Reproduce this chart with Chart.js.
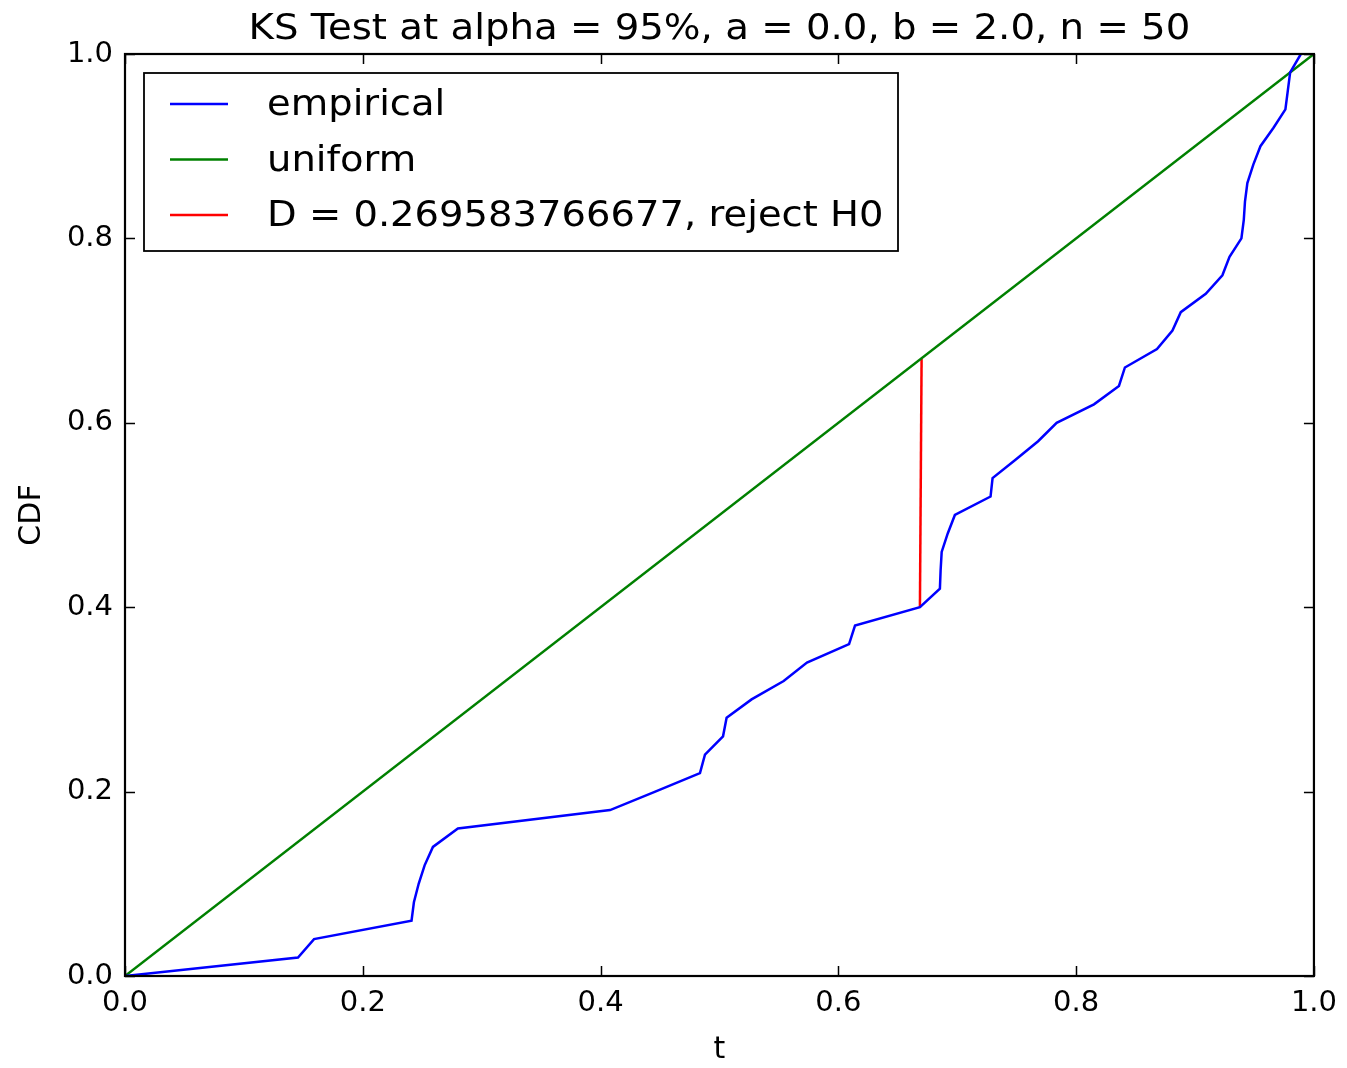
<!DOCTYPE html>
<html>
<head>
<meta charset="utf-8">
<script src="https://cdn.jsdelivr.net/npm/chart.js@4"></script>
<style>
  html, body { margin: 0; padding: 0; background: #fff; }
  canvas { display: block; }
</style>
</head>
<body>
<canvas id="ksChart" width="1347" height="1068"></canvas>
<script>
// data
const titleText = "KS Test at alpha = 95%, a = 0.0, b = 2.0, n = 50";
const empiricalT = [0, 0.1455, 0.159, 0.241, 0.243, 0.247, 0.252, 0.259, 0.280, 0.408, 0.446,
  0.4836, 0.4878, 0.503, 0.506, 0.527, 0.554, 0.5736, 0.609, 0.614, 0.6686, 0.6854, 0.686,
  0.6869, 0.692, 0.698, 0.728, 0.7297, 0.749, 0.768, 0.7836, 0.815, 0.836, 0.841, 0.868,
  0.881, 0.888, 0.909, 0.923, 0.929, 0.939, 0.941, 0.942, 0.944, 0.949, 0.955, 0.966,
  0.976, 0.978, 0.980, 0.989];
const empiricalCdf = [0, 0.02, 0.04, 0.06, 0.08, 0.10, 0.12, 0.14, 0.16, 0.18, 0.20,
  0.22, 0.24, 0.26, 0.28, 0.30, 0.32, 0.34, 0.36, 0.38, 0.40, 0.42, 0.44,
  0.46, 0.48, 0.50, 0.52, 0.54, 0.56, 0.58, 0.60, 0.62, 0.64, 0.66, 0.68,
  0.70, 0.72, 0.74, 0.76, 0.78, 0.80, 0.82, 0.84, 0.86, 0.88, 0.90, 0.92,
  0.94, 0.96, 0.98, 1.0];
const uniformT = [0, 1];
const uniformCdf = [0, 1];
const dT = [0.6700, 0.6686];
const dCdf = [0.6696, 0.40];
const tickValues = [0, 0.2, 0.4, 0.6, 0.8, 1.0];

const FONT = "'DejaVu Sans', sans-serif";

function toPoints(xs, ys) {
  return xs.map((x, i) => ({ x: x, y: ys[i] }));
}

// text in the original is a little wider than DejaVu at the same height
function wideText(ctx, text, x, y, sx) {
  ctx.save();
  ctx.translate(x, y);
  ctx.scale(sx, 1);
  ctx.fillText(text, 0, 0);
  ctx.restore();
}

// box, inward ticks on all four sides, title and legend like the matplotlib figure
const frameAndLegend = {
  id: "frameAndLegend",
  afterDatasetsDraw(chart) {
    const ctx = chart.ctx;
    const a = chart.chartArea;
    const xs = chart.scales.x;
    const ys = chart.scales.y;
    ctx.save();

    ctx.strokeStyle = "#000";
    ctx.lineWidth = 1.5;
    tickValues.forEach((v) => {
      const px = Math.round(xs.getPixelForValue(v)) + 0.5;
      const py = Math.round(ys.getPixelForValue(v)) + 0.5;
      ctx.beginPath();
      ctx.moveTo(px, a.bottom); ctx.lineTo(px, a.bottom - 10);
      ctx.moveTo(px, a.top); ctx.lineTo(px, a.top + 10);
      ctx.moveTo(a.left, py); ctx.lineTo(a.left + 10, py);
      ctx.moveTo(a.right, py); ctx.lineTo(a.right - 10, py);
      ctx.stroke();
    });

    ctx.lineWidth = 2.2;
    ctx.strokeRect(a.left, a.top, a.right - a.left, a.bottom - a.top);

    // title
    ctx.fillStyle = "#000";
    ctx.font = "35px " + FONT;
    ctx.textAlign = "center";
    ctx.textBaseline = "alphabetic";
    wideText(ctx, titleText, (a.left + a.right) / 2, 39, 1.105);

    // legend
    const bx = a.left + 19, by = a.top + 19, bw = 754, bh = 178;
    ctx.fillStyle = "#fff";
    ctx.fillRect(bx, by, bw, bh);
    ctx.lineWidth = 1.8;
    ctx.strokeStyle = "#000";
    ctx.strokeRect(bx, by, bw, bh);
    ctx.font = "35px " + FONT;
    ctx.textAlign = "left";
    ctx.textBaseline = "middle";
    chart.data.datasets.forEach((ds, i) => {
      const yy = by + 31 + i * 55.5;
      ctx.strokeStyle = ds.borderColor;
      ctx.lineWidth = 2.5;
      ctx.beginPath();
      ctx.moveTo(bx + 26, yy);
      ctx.lineTo(bx + 84, yy);
      ctx.stroke();
      ctx.fillStyle = "#000";
      wideText(ctx, ds.label, bx + 123, yy + 2, 1.1);
    });
    ctx.restore();
  },
};

const lineDefaults = { showLine: true, pointRadius: 0, borderWidth: 2.5, fill: false, tension: 0 };

new Chart(document.getElementById("ksChart"), {
  type: "scatter",
  data: {
    datasets: [
      { ...lineDefaults, label: "empirical", data: toPoints(empiricalT, empiricalCdf), borderColor: "#0000ff" },
      { ...lineDefaults, label: "uniform", data: toPoints(uniformT, uniformCdf), borderColor: "#008000" },
      { ...lineDefaults, label: "D = 0.269583766677, reject H0", data: toPoints(dT, dCdf), borderColor: "#ff0000" },
    ],
  },
  options: {
    responsive: false,
    animation: false,
    devicePixelRatio: 1,
    layout: { padding: { top: 54, right: 33, left: 0, bottom: 0 } },
    plugins: {
      legend: { display: false },
      title: { display: false },
      tooltip: { enabled: false },
    },
    scales: {
      x: {
        type: "linear",
        min: 0,
        max: 1,
        afterBuildTicks: (s) => { s.ticks = tickValues.map((v) => ({ value: v })); },
        afterFit: (s) => { s.height = 92; },
        ticks: {
          color: "#000",
          font: { family: FONT, size: 29 },
          padding: 10,
          maxRotation: 0,
          callback: (v) => Number(v).toFixed(1),
        },
        grid: { display: false, drawTicks: false },
        border: { display: false },
        title: { display: true, text: "t", color: "#000", font: { family: FONT, size: 30 }, padding: { top: 0, bottom: 0 } },
      },
      y: {
        type: "linear",
        min: 0,
        max: 1,
        afterBuildTicks: (s) => { s.ticks = tickValues.map((v) => ({ value: v })); },
        afterFit: (s) => { s.width = 125; },
        ticks: {
          color: "#000",
          font: { family: FONT, size: 29 },
          padding: 12,
          callback: (v) => Number(v).toFixed(1),
        },
        grid: { display: false, drawTicks: false },
        border: { display: false },
        title: { display: true, text: "CDF", color: "#000", font: { family: FONT, size: 30 }, padding: { top: 14, bottom: 0 } },
      },
    },
  },
  plugins: [frameAndLegend],
});
</script>
</body>
</html>
